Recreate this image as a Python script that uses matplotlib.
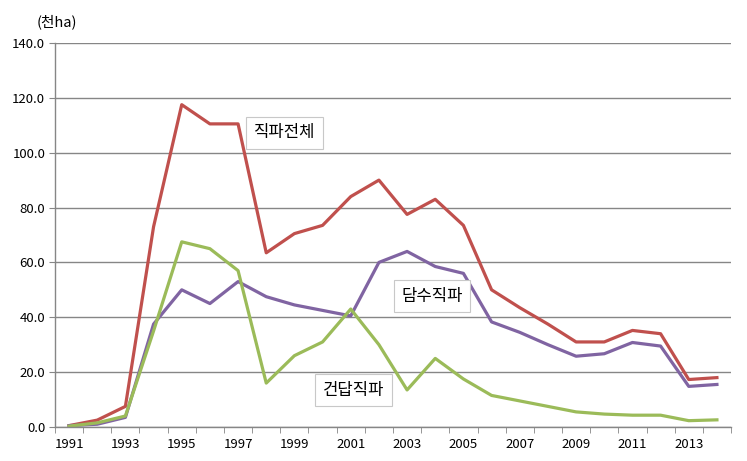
import matplotlib
matplotlib.use("Agg")
import matplotlib.pyplot as plt
import numpy as np

plt.rcParams["font.family"] = ["Noto Sans CJK KR", "DejaVu Sans"]

years = list(range(1991, 2015))
total = [0.5, 2.5, 7.5, 73.0, 117.5, 110.5, 110.5, 63.5, 70.5, 73.5, 84.0, 90.0,
         77.5, 83.0, 73.5, 50.0, 43.5, 37.5, 31.0, 31.0, 35.2, 34.0, 17.3, 18.0]
wet = [0.5, 1.0, 3.5, 37.5, 50.0, 45.0, 53.0, 47.5, 44.5, 42.5, 40.5, 60.0,
       64.0, 58.5, 56.0, 38.3, 34.5, 30.0, 25.8, 26.7, 30.8, 29.5, 14.8, 15.5]
dry = [0.3, 1.5, 4.0, 35.0, 67.5, 65.0, 57.0, 16.0, 26.0, 31.0, 43.0, 30.0,
       13.5, 25.0, 17.5, 11.5, 9.5, 7.5, 5.5, 4.7, 4.3, 4.3, 2.3, 2.6]

fig = plt.figure(figsize=(7.47, 4.61), dpi=100)
ax = fig.add_axes([0.0736, 0.0738, 0.905, 0.833])

x = np.arange(len(years))
ax.plot(x, total, color="#C0504D", lw=2.3, solid_joinstyle="round")
ax.plot(x, wet, color="#8064A2", lw=2.3, solid_joinstyle="round")
ax.plot(x, dry, color="#9BBB59", lw=2.3, solid_joinstyle="round")

ax.set_xlim(-0.5, len(years) - 0.5)
ax.set_ylim(0, 140)
ax.set_yticks(np.arange(0, 141, 20))
ax.set_yticklabels([f"{v:.1f}" for v in range(0, 141, 20)])
ax.set_xticks(x[::2])
ax.set_xticklabels([str(y) for y in years[::2]])
ax.set_xticks(np.arange(-0.5, len(years), 1), minor=True)
ax.tick_params(axis="x", which="major", length=0, pad=8, labelsize=9.5)
ax.tick_params(axis="x", which="minor", length=4, color="#868686", direction="out")
ax.tick_params(axis="y", length=4, color="#868686", labelsize=9.5, pad=3)

ax.grid(True, axis="y", color="#868686", lw=1)
ax.set_axisbelow(True)
for s in ("top", "right"):
    ax.spines[s].set_visible(False)
for s in ("left", "bottom"):
    ax.spines[s].set_color("#868686")
    ax.spines[s].set_linewidth(1)

fig.text(57 / 747, 1 - 22 / 461, "(천ha)", ha="center", va="center", fontsize=10.5)

box = dict(boxstyle="square,pad=0.45", fc="white", ec="#C8C8C8", lw=0.8)
fig.text(284.5 / 747, 1 - 133 / 461, "직파전체", ha="center", va="center",
         fontsize=12, bbox=box)
fig.text(432 / 747, 1 - 296 / 461, "담수직파", ha="center", va="center",
         fontsize=12, bbox=box)
fig.text(353.5 / 747, 1 - 390 / 461, "건답직파", ha="center", va="center",
         fontsize=12, bbox=box)

fig.savefig("out.png", dpi=100)
